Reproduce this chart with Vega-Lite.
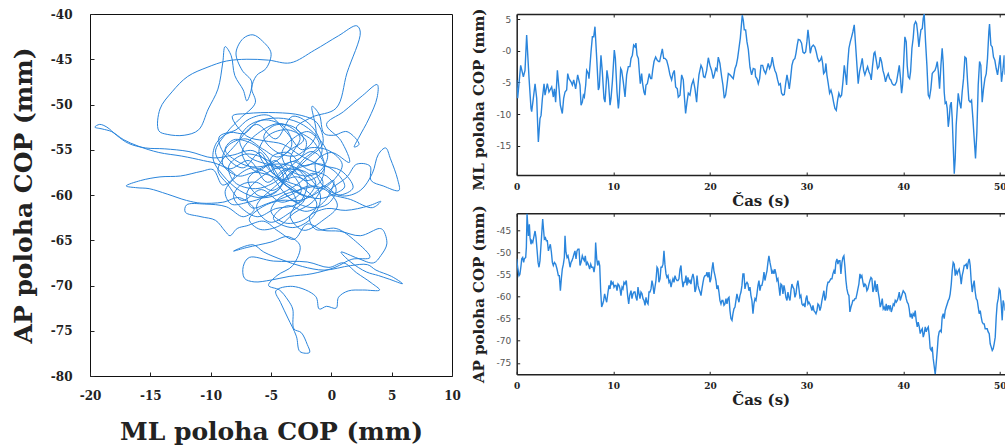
{
"$schema": "https://vega.github.io/schema/vega-lite/v6.json",
"padding": {"left": 10, "top": 7, "right": 0, "bottom": 0},
"background": "white",
"bounds": "flush",
"spacing": 64.7,
"config": {
  "view": {"stroke": null},
  "axis": {"grid": false, "labelFlush": false, "labelOverlap": false, "labelFont": "DejaVu Serif", "labelFontWeight": "bold", "labelColor": "#222", "titleFont": "DejaVu Serif", "titleFontWeight": "bold", "titleColor": "#222", "tickColor": "#222", "domainColor": "#222"}
},
"datasets": {
"xy": [
{"ml":-3.5,"ap":-58.5},{"ml":-4.6,"ap":-56.2},{"ml":-6.2,"ap":-57.4},{"ml":-7.4,"ap":-55.3},{"ml":-6.1,"ap":-53.2},{"ml":-4.2,"ap":-52.1},{"ml":-2.6,"ap":-53.6},{"ml":-3.4,"ap":-56.1},{"ml":-2.1,"ap":-58.4},{"ml":-0.6,"ap":-57.1},{"ml":-1.4,"ap":-54.2},{"ml":-2.9,"ap":-52.6},{"ml":-1.6,"ap":-51.4},{"ml":0.4,"ap":-50.4},{"ml":1.3,"ap":-46.5},{"ml":2.4,"ap":-42.0},{"ml":2.1,"ap":-41.3},{"ml":0.6,"ap":-42.4},{"ml":-1.4,"ap":-44.0},{"ml":-3.4,"ap":-45.4},{"ml":-5.2,"ap":-45.1},{"ml":-7.0,"ap":-45.0},{"ml":-8.7,"ap":-45.2},{"ml":-10.3,"ap":-45.9},{"ml":-11.9,"ap":-46.9},{"ml":-13.2,"ap":-48.6},{"ml":-14.2,"ap":-50.5},{"ml":-14.3,"ap":-52.9},{"ml":-13.6,"ap":-53.3},{"ml":-12.2,"ap":-53.4},{"ml":-11.0,"ap":-52.8},{"ml":-10.2,"ap":-50.5},{"ml":-9.4,"ap":-48.3},{"ml":-9.0,"ap":-45.4},{"ml":-8.8,"ap":-43.6},{"ml":-8.3,"ap":-44.6},{"ml":-8.0,"ap":-46.8},{"ml":-7.3,"ap":-48.4},{"ml":-7.0,"ap":-49.6},
{"ml":-6.6,"ap":-47.5},{"ml":-7.4,"ap":-46.2},{"ml":-7.9,"ap":-44.3},{"ml":-7.3,"ap":-42.7},{"ml":-6.5,"ap":-42.3},{"ml":-5.7,"ap":-43.0},{"ml":-5.0,"ap":-44.3},{"ml":-5.4,"ap":-46.0},{"ml":-6.2,"ap":-46.8},{"ml":-6.6,"ap":-48.2},{"ml":-6.3,"ap":-49.8},{"ml":-7.6,"ap":-51.6},{"ml":-8.6,"ap":-53.0},
{"ml":-9.6,"ap":-55.3},{"ml":-8.5,"ap":-57.1},{"ml":-6.8,"ap":-56.2},{"ml":-5.3,"ap":-58.6},{"ml":-3.8,"ap":-57.2},{"ml":-2.5,"ap":-59.6},{"ml":-4.1,"ap":-60.8},{"ml":-5.8,"ap":-59.4},{"ml":-7.4,"ap":-60.6},{"ml":-8.6,"ap":-58.8},{"ml":-9.4,"ap":-57.2},{"ml":-7.9,"ap":-54.4},{"ml":-6.2,"ap":-52.2},{"ml":-4.6,"ap":-53.8},{"ml":-3.2,"ap":-51.3},{"ml":-1.5,"ap":-52.6},{"ml":-0.8,"ap":-55.4},{"ml":-2.2,"ap":-56.8},{"ml":-3.6,"ap":-55.3},{"ml":-5.0,"ap":-55.9},{"ml":-4.3,"ap":-58.3},{"ml":-2.8,"ap":-58.0},{"ml":-1.1,"ap":-59.3},{"ml":0.2,"ap":-58.4},{"ml":-0.5,"ap":-60.6},{"ml":-2.0,"ap":-61.8},{"ml":-3.7,"ap":-61.2},{"ml":-4.8,"ap":-62.6},{"ml":-3.2,"ap":-63.6},{"ml":-1.6,"ap":-62.5},{"ml":-0.9,"ap":-60.1},{"ml":-2.3,"ap":-57.5},{"ml":-3.9,"ap":-56.6},{"ml":-5.6,"ap":-56.9},{"ml":-6.9,"ap":-58.3},{"ml":-6.0,"ap":-60.1},{"ml":-4.5,"ap":-59.6},
{"ml":-4.0,"ap":-57.8},{"ml":-5.5,"ap":-56.0},{"ml":-7.2,"ap":-55.5},{"ml":-8.5,"ap":-56.8},{"ml":-8.0,"ap":-58.6},{"ml":-6.3,"ap":-59.3},{"ml":-4.6,"ap":-58.5},{"ml":-3.0,"ap":-56.4},{"ml":-1.6,"ap":-55.2},{"ml":-0.6,"ap":-56.5},{"ml":-1.0,"ap":-58.7},{"ml":-2.6,"ap":-59.4},{"ml":-4.2,"ap":-60.2},{"ml":-5.0,"ap":-61.8},{"ml":-3.8,"ap":-63.1},{"ml":-2.1,"ap":-62.6},{"ml":-1.2,"ap":-61.0},{"ml":-2.4,"ap":-59.2},{"ml":-3.9,"ap":-58.4},{"ml":-5.1,"ap":-57.3},{"ml":-6.0,"ap":-55.2},{"ml":-5.2,"ap":-53.4},{"ml":-3.6,"ap":-52.8},{"ml":-2.1,"ap":-54.0},{"ml":-2.5,"ap":-55.8},{"ml":-4.1,"ap":-56.7},{"ml":-5.8,"ap":-58.0},{"ml":-7.0,"ap":-59.8},{"ml":-6.6,"ap":-61.4},{"ml":-5.2,"ap":-60.9},{"ml":-3.4,"ap":-60.0},{"ml":-1.8,"ap":-59.0},{"ml":-0.3,"ap":-59.6},{"ml":0.5,"ap":-61.2},{"ml":-0.6,"ap":-62.7},{"ml":-2.3,"ap":-63.9},{"ml":-3.4,"ap":-62.4},{"ml":-2.9,"ap":-60.7},{"ml":-3.6,"ap":-59.1},{"ml":-4.8,"ap":-58.0},{"ml":-6.3,"ap":-57.5},{"ml":-7.7,"ap":-57.9},{"ml":-9.0,"ap":-56.6},{"ml":-8.6,"ap":-54.6},{"ml":-7.1,"ap":-53.8},{"ml":-5.7,"ap":-54.9},{"ml":-4.4,"ap":-55.8},{"ml":-3.3,"ap":-54.6},{"ml":-3.8,"ap":-52.6},{"ml":-5.4,"ap":-51.7},{"ml":-6.9,"ap":-52.4},{"ml":-7.6,"ap":-54.0},{"ml":-6.8,"ap":-55.8},{"ml":-5.3,"ap":-56.6},{"ml":-3.7,"ap":-57.1},{"ml":-2.2,"ap":-57.4},{"ml":-1.3,"ap":-58.6},{"ml":-1.9,"ap":-60.1},{"ml":-3.2,"ap":-61.2},{"ml":-4.6,"ap":-61.5},{"ml":-6.1,"ap":-62.4},{"ml":-7.3,"ap":-61.6},{"ml":-8.1,"ap":-60.2},{"ml":-7.5,"ap":-58.9},{"ml":-6.2,"ap":-58.6},{"ml":-4.9,"ap":-59.5},{"ml":-3.6,"ap":-58.2},{"ml":-2.4,"ap":-56.2},{"ml":-1.0,"ap":-54.4},{"ml":-1.9,"ap":-53.0},{"ml":-3.3,"ap":-53.9},{"ml":-4.1,"ap":-55.4},{"ml":-3.5,"ap":-57.2},{"ml":-2.0,"ap":-57.9},{"ml":-0.9,"ap":-57.3},{"ml":-0.3,"ap":-55.6},{"ml":-1.2,"ap":-53.5},{"ml":-2.7,"ap":-52.0},{"ml":-4.4,"ap":-51.5},{"ml":-6.1,"ap":-51.9},{"ml":-7.2,"ap":-53.2},{"ml":-8.4,"ap":-53.1},{"ml":-9.5,"ap":-54.2},{"ml":-9.8,"ap":-56.0},{"ml":-9.0,"ap":-57.8},{"ml":-7.6,"ap":-59.5},{"ml":-6.0,"ap":-60.3},{"ml":-4.5,"ap":-60.0},{"ml":-2.9,"ap":-58.9},{"ml":-1.5,"ap":-57.6},{"ml":-0.7,"ap":-58.5},{"ml":-1.5,"ap":-60.7},{"ml":-3.1,"ap":-62.0},{"ml":-4.3,"ap":-63.4},{"ml":-5.9,"ap":-63.8},{"ml":-6.8,"ap":-62.7},{"ml":-5.7,"ap":-61.3},{"ml":-4.2,"ap":-60.6},{"ml":-2.6,"ap":-60.6},{"ml":-1.1,"ap":-59.7},{"ml":0.3,"ap":-58.2},{"ml":0.9,"ap":-56.6},{"ml":-0.2,"ap":-55.1},{"ml":-1.8,"ap":-54.8},{"ml":-3.0,"ap":-55.7},{"ml":-4.6,"ap":-55.2},{"ml":-5.6,"ap":-53.6},{"ml":-4.7,"ap":-52.3},{"ml":-3.1,"ap":-52.5},{"ml":-2.3,"ap":-53.9},{"ml":-3.4,"ap":-55.0},{"ml":-4.9,"ap":-56.5},{"ml":-6.5,"ap":-56.9},{"ml":-7.9,"ap":-56.2},{"ml":-8.8,"ap":-55.0},{"ml":-8.1,"ap":-53.9},{"ml":-6.6,"ap":-54.3},{"ml":-5.4,"ap":-55.6},{"ml":-4.8,"ap":-57.0},{"ml":-3.9,"ap":-58.8},{"ml":-2.5,"ap":-59.9},{"ml":-1.0,"ap":-60.4},{"ml":0.2,"ap":-59.9},{"ml":1.1,"ap":-59.1},{"ml":0.6,"ap":-57.8},{"ml":-0.8,"ap":-56.6},{"ml":-2.3,"ap":-56.8},{"ml":-3.6,"ap":-57.8},{"ml":-4.3,"ap":-59.3},{"ml":-5.5,"ap":-60.2},{"ml":-6.9,"ap":-60.8},{"ml":-8.3,"ap":-61.0},{"ml":-8.8,"ap":-59.6},{"ml":-7.8,"ap":-57.9},{"ml":-6.5,"ap":-57.0},{"ml":-5.1,"ap":-57.8},{"ml":-4.0,"ap":-59.6},{"ml":-3.1,"ap":-60.7},{"ml":-1.6,"ap":-61.4},{"ml":-0.3,"ap":-61.0},{"ml":0.4,"ap":-59.4},{"ml":-0.4,"ap":-57.9},{"ml":-1.9,"ap":-57.2},{"ml":-3.2,"ap":-56.3},{"ml":-4.5,"ap":-57.1},
{"ml":-6.5,"ap":-55.1},{"ml":-8.2,"ap":-55.6},{"ml":-9.8,"ap":-55.9},{"ml":-11.8,"ap":-55.2},{"ml":-13.8,"ap":-54.9},{"ml":-15.4,"ap":-54.8},{"ml":-16.8,"ap":-54.3},{"ml":-17.8,"ap":-53.4},{"ml":-18.6,"ap":-52.5},{"ml":-19.2,"ap":-52.2},{"ml":-19.6,"ap":-52.5},{"ml":-19.0,"ap":-52.7},{"ml":-18.2,"ap":-53.0},{"ml":-17.2,"ap":-53.9},{"ml":-16.0,"ap":-54.6},{"ml":-14.3,"ap":-55.3},{"ml":-12.4,"ap":-55.7},{"ml":-10.6,"ap":-56.2},{"ml":-9.4,"ap":-56.6},{"ml":-8.0,"ap":-57.8},{"ml":-9.0,"ap":-58.9},{"ml":-9.8,"ap":-57.2},
{"ml":-10.8,"ap":-57.4},{"ml":-12.5,"ap":-57.9},{"ml":-14.2,"ap":-58.0},{"ml":-15.8,"ap":-58.4},{"ml":-17.0,"ap":-59.0},{"ml":-16.1,"ap":-59.2},{"ml":-15.1,"ap":-59.3},{"ml":-13.6,"ap":-59.9},{"ml":-12.0,"ap":-60.6},{"ml":-10.8,"ap":-60.9},{"ml":-9.0,"ap":-60.8},{"ml":-7.6,"ap":-60.3},{"ml":-6.4,"ap":-61.6},{"ml":-7.3,"ap":-62.4},
{"ml":-8.7,"ap":-61.3},{"ml":-10.5,"ap":-61.0},{"ml":-12.0,"ap":-61.1},{"ml":-12.1,"ap":-61.9},{"ml":-10.8,"ap":-62.4},{"ml":-9.6,"ap":-62.8},{"ml":-8.8,"ap":-64.0},{"ml":-8.4,"ap":-64.5},{"ml":-7.8,"ap":-63.7},{"ml":-7.0,"ap":-63.4},{"ml":-5.6,"ap":-62.9},{"ml":-4.4,"ap":-64.0},{"ml":-3.1,"ap":-64.9},{"ml":-2.0,"ap":-63.2},{"ml":-0.7,"ap":-63.9},{"ml":0.7,"ap":-64.0},{"ml":2.4,"ap":-64.5},{"ml":4.0,"ap":-63.7},{"ml":4.3,"ap":-63.9},{"ml":4.6,"ap":-65.4},{"ml":4.1,"ap":-66.7},{"ml":3.5,"ap":-67.5},{"ml":2.2,"ap":-67.0},{"ml":0.8,"ap":-66.3},{"ml":1.6,"ap":-67.4},{"ml":2.9,"ap":-68.5},{"ml":3.9,"ap":-68.9},{"ml":4.8,"ap":-69.3},{"ml":5.9,"ap":-69.8},{"ml":5.0,"ap":-69.0},{"ml":3.7,"ap":-68.3},{"ml":3.0,"ap":-67.7},{"ml":1.6,"ap":-67.8},{"ml":-0.6,"ap":-68.3},{"ml":-2.4,"ap":-67.9},{"ml":-4.0,"ap":-67.2},{"ml":-5.6,"ap":-66.3},{"ml":-6.5,"ap":-65.5},{"ml":-8.1,"ap":-66.2},{"ml":-7.0,"ap":-65.8},{"ml":-5.0,"ap":-65.2},{"ml":-3.6,"ap":-64.6},
{"ml":-2.6,"ap":-65.6},{"ml":-3.2,"ap":-67.8},{"ml":-4.5,"ap":-68.9},{"ml":-5.2,"ap":-70.0},{"ml":-4.3,"ap":-70.5},{"ml":-3.6,"ap":-71.6},{"ml":-3.2,"ap":-72.6},{"ml":-3.1,"ap":-74.8},{"ml":-2.5,"ap":-75.2},{"ml":-2.0,"ap":-76.5},{"ml":-1.8,"ap":-77.4},{"ml":-2.6,"ap":-77.3},{"ml":-2.9,"ap":-75.6},{"ml":-3.6,"ap":-73.6},{"ml":-4.2,"ap":-71.9},{"ml":-4.6,"ap":-70.6},{"ml":-3.2,"ap":-70.1},{"ml":-1.3,"ap":-71.2},{"ml":-1.0,"ap":-72.6},{"ml":-0.4,"ap":-72.3},{"ml":0.4,"ap":-72.5},{"ml":0.6,"ap":-71.3},{"ml":1.4,"ap":-70.6},{"ml":2.6,"ap":-70.5},{"ml":4.0,"ap":-70.5},{"ml":3.3,"ap":-69.7},{"ml":2.1,"ap":-68.6},{"ml":1.0,"ap":-67.5},{"ml":-0.2,"ap":-68.0},
{"ml":-2.0,"ap":-67.4},{"ml":-4.8,"ap":-67.3},{"ml":-6.8,"ap":-66.9},{"ml":-7.3,"ap":-67.9},{"ml":-7.2,"ap":-69.2},{"ml":-6.4,"ap":-69.6},{"ml":-5.0,"ap":-69.4},{"ml":-3.5,"ap":-69.0},{"ml":-1.6,"ap":-68.7},{"ml":0.3,"ap":-68.0},{"ml":1.7,"ap":-67.1},{"ml":3.2,"ap":-66.9},
{"ml":2.0,"ap":-65.1},{"ml":0.4,"ap":-63.7},{"ml":-1.3,"ap":-63.8},{"ml":-1.8,"ap":-62.4},{"ml":-0.4,"ap":-61.5},{"ml":1.2,"ap":-61.7},{"ml":3.1,"ap":-61.2},{"ml":4.1,"ap":-60.7},{"ml":3.4,"ap":-61.4},{"ml":1.6,"ap":-60.5},{"ml":-0.2,"ap":-59.7},{"ml":1.3,"ap":-58.0},{"ml":2.1,"ap":-56.6},{"ml":3.2,"ap":-56.8},{"ml":3.3,"ap":-58.4},{"ml":4.3,"ap":-59.0},{"ml":5.6,"ap":-59.5},{"ml":5.5,"ap":-58.3},{"ml":4.9,"ap":-56.0},{"ml":4.5,"ap":-54.8},{"ml":3.9,"ap":-55.5},{"ml":3.4,"ap":-57.6},{"ml":2.4,"ap":-59.5},{"ml":0.9,"ap":-60.1},{"ml":-0.8,"ap":-58.8},{"ml":-1.3,"ap":-56.4},{"ml":0.0,"ap":-55.3},{"ml":1.5,"ap":-56.4},
{"ml":0.8,"ap":-54.0},{"ml":-0.4,"ap":-52.2},{"ml":1.0,"ap":-50.8},{"ml":2.6,"ap":-49.0},{"ml":3.8,"ap":-47.8},{"ml":3.8,"ap":-49.2},{"ml":3.1,"ap":-51.6},{"ml":2.3,"ap":-53.6},{"ml":1.9,"ap":-54.7},{"ml":2.3,"ap":-54.4},{"ml":1.3,"ap":-53.0},{"ml":0.2,"ap":-53.4},{"ml":-0.6,"ap":-53.2},{"ml":-1.0,"ap":-51.1},{"ml":-1.6,"ap":-50.2},{"ml":-1.3,"ap":-53.5},
{"ml":-2.4,"ap":-55.0},{"ml":-3.7,"ap":-53.1},{"ml":-5.2,"ap":-51.2},{"ml":-6.8,"ap":-51.6},{"ml":-7.9,"ap":-52.8},{"ml":-9.3,"ap":-53.6},{"ml":-8.7,"ap":-55.8},{"ml":-7.3,"ap":-57.0},{"ml":-5.9,"ap":-55.3},{"ml":-4.9,"ap":-57.5},{"ml":-3.3,"ap":-59.1},{"ml":-1.9,"ap":-60.2},{"ml":-0.6,"ap":-59.0},{"ml":0.6,"ap":-60.0},{"ml":1.8,"ap":-59.2},{"ml":0.8,"ap":-57.3},{"ml":-0.9,"ap":-56.7},{"ml":-2.6,"ap":-55.6},{"ml":-4.0,"ap":-54.4},{"ml":-5.6,"ap":-54.0},{"ml":-7.0,"ap":-53.5},{"ml":-8.2,"ap":-51.3},{"ml":-7.0,"ap":-51.0},{"ml":-4.6,"ap":-50.9},{"ml":-2.5,"ap":-51.2},{"ml":-1.2,"ap":-52.0},{"ml":-0.7,"ap":-54.3},{"ml":-1.9,"ap":-55.9},{"ml":-3.3,"ap":-57.6},{"ml":-4.7,"ap":-59.1},{"ml":-6.2,"ap":-61.3},{"ml":-5.1,"ap":-63.0},{"ml":-3.6,"ap":-62.1},{"ml":-2.2,"ap":-60.4},{"ml":-3.0,"ap":-59.6},{"ml":-4.4,"ap":-58.1},{"ml":-3.1,"ap":-57.0},{"ml":-2.0,"ap":-58.6},{"ml":-2.7,"ap":-60.8},{"ml":-3.9,"ap":-59.8}
],
"ml": [
{"t":0,"v":-4.6},{"t":0.1,"v":-7.5},{"t":0.41,"v":-2.3},{"t":0.69,"v":-4.1},{"t":0.86,"v":-3.1},{"t":1.03,"v":2.5},{"t":1.28,"v":-4.4},{"t":1.48,"v":-9.1},{"t":1.55,"v":-9.6},{"t":1.72,"v":-7.5},{"t":1.9,"v":-5.2},{"t":2.07,"v":-7.5},{"t":2.17,"v":-11.7},{"t":2.24,"v":-14.4},{"t":2.41,"v":-10.7},{"t":2.52,"v":-10.2},{"t":2.66,"v":-7.5},{"t":2.83,"v":-5.2},{"t":2.93,"v":-7.0},{"t":3.17,"v":-5.2},{"t":3.34,"v":-6.5},{"t":3.62,"v":-5.7},{"t":3.79,"v":-7.3},{"t":3.9,"v":-6.0},{"t":4.03,"v":-8.1},{"t":4.21,"v":-3.1},{"t":4.38,"v":-6.0},{"t":4.52,"v":-8.6},{"t":4.72,"v":-9.9},{"t":4.86,"v":-7.5},{"t":5.0,"v":-6.5},{"t":5.17,"v":-6.2},{"t":5.28,"v":-3.6},{"t":5.41,"v":-4.4},{"t":5.62,"v":-4.9},{"t":5.76,"v":-5.4},{"t":5.9,"v":-4.6},{"t":6.1,"v":-6.0},{"t":6.31,"v":-3.8},{"t":6.55,"v":-5.4},{"t":6.66,"v":-8.6},{"t":6.79,"v":-8.1},{"t":6.9,"v":-7.0},{"t":7.0,"v":-7.3},{"t":7.14,"v":-5.4},{"t":7.24,"v":-3.1},{"t":7.41,"v":-3.6},{"t":7.48,"v":-4.4},{"t":7.69,"v":-0.2},{"t":7.83,"v":2.2},{"t":7.97,"v":2.2},{"t":8.1,"v":3.8},{"t":8.28,"v":-1.2},{"t":8.45,"v":-6.2},{"t":8.55,"v":-5.7},{"t":8.72,"v":-0.7},{"t":8.86,"v":-3.3},{"t":9.03,"v":-7.5},{"t":9.14,"v":-8.1},{"t":9.21,"v":-6.5},{"t":9.34,"v":-3.1},{"t":9.48,"v":-4.6},{"t":9.66,"v":-8.6},{"t":9.76,"v":-7.5},{"t":9.9,"v":-4.9},{"t":10.1,"v":0.1},{"t":10.21,"v":-1.2},{"t":10.38,"v":-6.5},{"t":10.52,"v":-9.1},{"t":10.59,"v":-8.1},{"t":10.76,"v":-2.8},{"t":10.86,"v":-3.1},{"t":11.03,"v":-4.9},{"t":11.21,"v":-7.3},{"t":11.38,"v":-3.8},{"t":11.55,"v":-2.5},{"t":11.72,"v":-2.5},{"t":11.83,"v":-1.2},{"t":11.97,"v":-0.7},{"t":12.1,"v":0.9},{"t":12.24,"v":0.6},
{"t":12.34,"v":1.2},{"t":12.45,"v":-0.7},{"t":12.59,"v":-1.2},{"t":12.69,"v":-3.3},{"t":12.79,"v":-5.2},{"t":12.93,"v":-3.6},{"t":13.03,"v":-5.2},{"t":13.17,"v":-6.5},{"t":13.28,"v":-7.0},{"t":13.38,"v":-5.4},{"t":13.52,"v":-5.2},{"t":13.62,"v":-4.4},{"t":13.72,"v":-3.6},{"t":13.86,"v":-4.4},{"t":13.97,"v":-4.4},{"t":14.07,"v":-3.1},{"t":14.21,"v":-1.7},{"t":14.38,"v":-1.0},{"t":14.55,"v":-1.5},{"t":14.69,"v":-1.7},{"t":14.79,"v":-1.7},{"t":14.93,"v":-0.7},{"t":15.07,"v":0.3},{"t":15.21,"v":-1.2},{"t":15.34,"v":-1.2},{"t":15.52,"v":-1.5},{"t":15.69,"v":-2.5},{"t":15.86,"v":-3.8},{"t":16.03,"v":-4.6},{"t":16.17,"v":-3.6},{"t":16.31,"v":-3.1},{"t":16.45,"v":-5.7},{"t":16.62,"v":-6.0},{"t":16.72,"v":-7.3},{"t":16.9,"v":-7.0},{"t":17.07,"v":-3.8},{"t":17.24,"v":-4.6},{"t":17.34,"v":-7.0},{"t":17.48,"v":-9.9},{"t":17.62,"v":-8.1},{"t":17.76,"v":-6.7},{"t":17.93,"v":-7.0},{"t":18.1,"v":-5.4},{"t":18.28,"v":-4.6},{"t":18.45,"v":-6.0},{"t":18.62,"v":-8.1},{"t":18.72,"v":-6.0},{"t":18.86,"v":-3.8},{"t":19.07,"v":-2.3},{"t":19.21,"v":-2.8},{"t":19.34,"v":-4.1},{"t":19.48,"v":-4.2},{"t":19.66,"v":-3.1},{"t":19.83,"v":-1.1},{"t":20.0,"v":-2.3},{"t":20.17,"v":-3.1},{"t":20.34,"v":-4.4},{"t":20.45,"v":-3.8},{"t":20.59,"v":-2.8},{"t":20.72,"v":-3.1},{"t":20.86,"v":-1.0},{"t":21.03,"v":-2.0},{"t":21.21,"v":-4.1},{"t":21.34,"v":-5.4},{"t":21.48,"v":-7.5},{"t":21.62,"v":-7.0},{"t":21.76,"v":-5.4},{"t":21.9,"v":-3.6},{"t":22.07,"v":-3.8},{"t":22.24,"v":-4.1},{"t":22.41,"v":-4.4},{"t":22.59,"v":-2.8},{"t":22.72,"v":-2.3},{"t":22.86,"v":-1.2},{"t":23.0,"v":0.4},{"t":23.14,"v":2.0},{"t":23.24,"v":3.8},{"t":23.34,"v":5.6},{"t":23.45,"v":4.8},{"t":23.55,"v":3.3},{"t":23.69,"v":3.3},{"t":23.83,"v":1.4},{"t":23.97,"v":0.2},{"t":24.14,"v":-2.6},{"t":24.31,"v":-3.8},{"t":24.48,"v":-2.8},{"t":24.66,"v":-2.9},
{"t":24.72,"v":-4.1},{"t":24.86,"v":-4.4},{"t":25.0,"v":-5.2},{"t":25.14,"v":-4.4},{"t":25.28,"v":-2.3},{"t":25.45,"v":-2.3},{"t":25.59,"v":-3.1},{"t":25.76,"v":-3.6},{"t":25.9,"v":-2.8},{"t":26.03,"v":-2.0},{"t":26.17,"v":-2.8},{"t":26.31,"v":-2.3},{"t":26.45,"v":-1.0},{"t":26.59,"v":-2.3},{"t":26.72,"v":-3.1},{"t":26.86,"v":-3.6},{"t":27.0,"v":-4.6},{"t":27.14,"v":-5.4},{"t":27.28,"v":-5.2},{"t":27.41,"v":-6.7},{"t":27.55,"v":-7.0},{"t":27.69,"v":-6.9},{"t":27.83,"v":-5.2},{"t":27.97,"v":-3.8},{"t":28.1,"v":-4.9},{"t":28.21,"v":-6.0},{"t":28.34,"v":-4.4},{"t":28.48,"v":-2.3},{"t":28.62,"v":-1.5},{"t":28.79,"v":-1.2},{"t":28.9,"v":-0.4},{"t":29.03,"v":0.9},{"t":29.14,"v":1.8},{"t":29.31,"v":1.7},{"t":29.48,"v":1.2},{"t":29.62,"v":-0.2},{"t":29.76,"v":-0.4},{"t":29.9,"v":-0.2},{"t":30.03,"v":1.4},{"t":30.14,"v":3.3},{"t":30.24,"v":2.0},{"t":30.38,"v":-0.4},{"t":30.52,"v":0.6},{"t":30.69,"v":0.9},{"t":30.86,"v":0.6},{"t":31.0,"v":-0.2},{"t":31.14,"v":-1.2},{"t":31.28,"v":-1.7},{"t":31.41,"v":-1.5},{"t":31.55,"v":-1.0},{"t":31.66,"v":-2.0},{"t":31.76,"v":-3.6},{"t":31.9,"v":-3.3},{"t":32.0,"v":-2.0},{"t":32.1,"v":-3.8},{"t":32.24,"v":-5.2},{"t":32.38,"v":-6.7},{"t":32.52,"v":-6.2},{"t":32.66,"v":-7.0},{"t":32.79,"v":-8.1},{"t":32.93,"v":-9.1},{"t":33.07,"v":-9.4},{"t":33.21,"v":-7.8},{"t":33.34,"v":-6.7},{"t":33.48,"v":-7.3},{"t":33.62,"v":-7.0},{"t":33.76,"v":-4.9},{"t":33.9,"v":-2.3},{"t":34.03,"v":-3.8},{"t":34.14,"v":-5.4},{"t":34.24,"v":-2.3},{"t":34.38,"v":0.4},{"t":34.52,"v":1.4},{"t":34.66,"v":2.2},{"t":34.79,"v":3.0},{"t":34.93,"v":4.1},{"t":35.07,"v":0.9},{"t":35.21,"v":-2.3},{"t":35.34,"v":-5.2},{"t":35.48,"v":-3.3},{"t":35.62,"v":-2.3},{"t":35.76,"v":-1.2},{"t":35.9,"v":-3.1},{"t":36.03,"v":-3.8},{"t":36.17,"v":-3.1},{"t":36.31,"v":-2.5},{"t":36.45,"v":-3.3},{"t":36.59,"v":-3.8},{"t":36.69,"v":-4.6},{"t":36.83,"v":-2.3},{"t":36.97,"v":-0.4},{"t":37.07,"v":-0.2},
{"t":37.21,"v":-1.5},{"t":37.34,"v":-2.8},{"t":37.48,"v":-2.5},{"t":37.62,"v":-1.0},{"t":37.76,"v":-1.7},{"t":37.9,"v":-3.1},{"t":38.03,"v":-3.8},{"t":38.17,"v":-4.9},{"t":38.31,"v":-4.1},{"t":38.45,"v":-3.6},{"t":38.59,"v":-4.4},{"t":38.72,"v":-4.6},{"t":38.86,"v":-5.2},{"t":39.0,"v":-5.4},{"t":39.14,"v":-5.4},{"t":39.31,"v":-4.9},{"t":39.45,"v":-3.6},{"t":39.59,"v":-2.3},{"t":39.72,"v":-4.4},{"t":39.83,"v":-6.7},{"t":39.93,"v":-5.4},{"t":40.03,"v":-2.3},{"t":40.17,"v":2.2},{"t":40.31,"v":1.4},{"t":40.41,"v":-2.3},{"t":40.52,"v":-4.1},{"t":40.66,"v":-4.4},{"t":40.76,"v":-3.3},{"t":40.9,"v":0.4},{"t":41.03,"v":2.0},{"t":41.14,"v":4.1},{"t":41.28,"v":4.6},{"t":41.38,"v":4.3},{"t":41.48,"v":3.0},{"t":41.62,"v":0.6},{"t":41.72,"v":2.0},{"t":41.83,"v":3.3},{"t":41.97,"v":3.5},{"t":42.07,"v":5.1},{"t":42.17,"v":5.8},{"t":42.31,"v":1.4},{"t":42.45,"v":-2.3},{"t":42.59,"v":-7.0},{"t":42.72,"v":-7.4},{"t":42.86,"v":-6.0},{"t":43.0,"v":-3.6},{"t":43.14,"v":-3.3},{"t":43.28,"v":-3.1},{"t":43.41,"v":-2.5},{"t":43.52,"v":-1.7},{"t":43.62,"v":-3.1},{"t":43.76,"v":-6.0},{"t":43.9,"v":-2.3},{"t":44.03,"v":0.4},{"t":44.14,"v":-2.0},{"t":44.24,"v":-6.5},{"t":44.34,"v":-8.3},{"t":44.45,"v":-8.1},{"t":44.55,"v":-9.1},{"t":44.66,"v":-12.0},{"t":44.76,"v":-10.7},{"t":44.86,"v":-8.6},{"t":44.97,"v":-8.1},{"t":45.07,"v":-10.7},{"t":45.17,"v":-14.9},{"t":45.28,"v":-19.4},{"t":45.38,"v":-17.0},{"t":45.48,"v":-11.7},{"t":45.59,"v":-9.1},{"t":45.69,"v":-6.7},{"t":45.83,"v":-8.1},{"t":45.97,"v":-9.1},{"t":46.1,"v":-6.5},{"t":46.24,"v":-4.4},{"t":46.38,"v":-1.0},{"t":46.52,"v":-1.2},{"t":46.66,"v":-4.9},{"t":46.79,"v":-7.8},{"t":46.93,"v":-8.1},{"t":47.07,"v":-7.8},{"t":47.21,"v":-10.7},{"t":47.34,"v":-13.8},{"t":47.48,"v":-17.0},{"t":47.62,"v":-12.8},{"t":47.76,"v":-5.4},{"t":47.9,"v":-1.7},{"t":48.03,"v":-2.3},{"t":48.17,"v":-8.1},{"t":48.31,"v":-6.0},{"t":48.45,"v":-4.4},{"t":48.59,"v":-3.6},{"t":48.72,"v":-1.2},{"t":48.86,"v":3.0},{"t":48.93,"v":4.2},{"t":49.07,"v":0.9},{"t":49.21,"v":0.6},{"t":49.34,"v":-1.0},{"t":49.48,"v":-1.5},{"t":49.62,"v":-2.8},{"t":49.76,"v":-3.8},{"t":49.9,"v":-2.3},{"t":50.03,"v":-0.7},{"t":50.17,"v":-4.9},{"t":50.31,"v":-3.1},{"t":50.45,"v":-0.7},{"t":50.52,"v":-3.8}
],
"ap": [
{"t":0,"v":-51.5},{"t":0.1,"v":-53.4},{"t":0.24,"v":-55.3},{"t":0.34,"v":-54.9},{"t":0.45,"v":-53.0},{"t":0.52,"v":-51.5},{"t":0.62,"v":-51.2},{"t":0.72,"v":-52.3},{"t":0.79,"v":-51.5},{"t":0.93,"v":-51.2},{"t":1.0,"v":-48.9},{"t":1.07,"v":-41.3},{"t":1.14,"v":-43.7},{"t":1.21,"v":-46.3},{"t":1.31,"v":-43.7},{"t":1.38,"v":-46.7},{"t":1.48,"v":-48.2},{"t":1.55,"v":-47.4},{"t":1.66,"v":-47.8},{"t":1.76,"v":-46.7},{"t":1.9,"v":-45.2},{"t":2.0,"v":-46.7},{"t":2.1,"v":-49.3},{"t":2.21,"v":-52.3},{"t":2.31,"v":-53.4},{"t":2.41,"v":-51.9},{"t":2.52,"v":-48.2},{"t":2.62,"v":-44.8},{"t":2.69,"v":-42.5},{"t":2.76,"v":-44.4},{"t":2.86,"v":-47.0},{"t":2.97,"v":-46.7},{"t":3.07,"v":-47.4},{"t":3.17,"v":-47.4},{"t":3.28,"v":-49.7},{"t":3.38,"v":-48.9},{"t":3.48,"v":-48.2},{"t":3.59,"v":-50.0},{"t":3.69,"v":-52.3},{"t":3.79,"v":-53.0},{"t":3.9,"v":-52.3},{"t":4.03,"v":-52.7},{"t":4.17,"v":-53.8},{"t":4.31,"v":-55.3},{"t":4.41,"v":-55.3},{"t":4.52,"v":-58.7},{"t":4.62,"v":-56.0},{"t":4.72,"v":-53.8},{"t":4.83,"v":-52.7},{"t":4.93,"v":-51.2},{"t":5.0,"v":-46.3},{"t":5.1,"v":-50.0},{"t":5.21,"v":-51.2},{"t":5.31,"v":-50.8},{"t":5.41,"v":-51.9},{"t":5.52,"v":-53.4},{"t":5.62,"v":-52.3},{"t":5.72,"v":-51.9},{"t":5.83,"v":-51.2},{"t":5.93,"v":-50.4},{"t":6.03,"v":-49.7},{"t":6.14,"v":-51.5},{"t":6.24,"v":-49.7},{"t":6.34,"v":-49.3},{"t":6.45,"v":-49.3},{"t":6.55,"v":-53.0},{"t":6.66,"v":-52.3},{"t":6.79,"v":-50.8},{"t":6.9,"v":-51.5},{"t":7.0,"v":-51.9},{"t":7.1,"v":-50.8},{"t":7.21,"v":-53.0},{"t":7.31,"v":-52.3},{"t":7.41,"v":-52.7},{"t":7.55,"v":-53.8},{"t":7.66,"v":-52.7},{"t":7.76,"v":-53.4},{"t":7.9,"v":-53.4},{"t":8.0,"v":-54.5},{"t":8.1,"v":-53.0},{"t":8.17,"v":-47.8},{"t":8.28,"v":-51.5},{"t":8.38,"v":-53.0},{"t":8.48,"v":-51.9},{"t":8.59,"v":-53.0},{"t":8.69,"v":-58.7},{"t":8.79,"v":-62.4},{"t":8.9,"v":-61.7},{"t":9.0,"v":-60.9},{"t":9.1,"v":-59.4},{"t":9.21,"v":-60.5},{"t":9.31,"v":-61.3},{"t":9.45,"v":-59.0},{"t":9.55,"v":-57.5},{"t":9.66,"v":-58.3},{"t":9.76,"v":-56.4},{"t":9.86,"v":-57.2},{"t":9.97,"v":-56.8},{"t":10.07,"v":-57.9},{"t":10.17,"v":-57.5},{"t":10.28,"v":-57.5},{"t":10.38,"v":-58.7},{"t":10.48,"v":-57.2},{"t":10.59,"v":-57.5},{"t":10.69,"v":-58.3},{"t":10.79,"v":-59.8},{"t":10.9,"v":-57.9},{"t":11.0,"v":-58.3},{"t":11.1,"v":-56.8},{"t":11.21,"v":-57.2},{"t":11.34,"v":-56.4},{"t":11.48,"v":-59.8},{"t":11.59,"v":-61.7},{"t":11.69,"v":-59.8},{"t":11.83,"v":-58.7},{"t":11.93,"v":-60.5},{"t":12.03,"v":-59.4},{"t":12.14,"v":-59.0},{"t":12.24,"v":-59.0},
{"t":12.34,"v":-60.2},{"t":12.45,"v":-60.9},{"t":12.55,"v":-57.9},{"t":12.66,"v":-59.4},{"t":12.76,"v":-60.5},{"t":12.86,"v":-59.0},{"t":12.97,"v":-59.4},{"t":13.07,"v":-60.5},{"t":13.17,"v":-60.9},{"t":13.28,"v":-62.0},{"t":13.38,"v":-60.2},{"t":13.48,"v":-61.3},{"t":13.59,"v":-61.7},{"t":13.69,"v":-59.0},{"t":13.79,"v":-59.0},{"t":13.9,"v":-58.3},{"t":14.0,"v":-56.4},{"t":14.1,"v":-57.5},{"t":14.21,"v":-59.4},{"t":14.31,"v":-57.9},{"t":14.41,"v":-56.4},{"t":14.52,"v":-53.4},{"t":14.62,"v":-53.8},{"t":14.72,"v":-56.8},{"t":14.83,"v":-56.0},{"t":14.93,"v":-53.4},{"t":15.03,"v":-53.4},{"t":15.14,"v":-52.7},{"t":15.24,"v":-49.7},{"t":15.34,"v":-52.7},{"t":15.45,"v":-54.9},{"t":15.55,"v":-55.7},{"t":15.66,"v":-55.3},{"t":15.76,"v":-56.8},{"t":15.86,"v":-56.4},{"t":15.97,"v":-57.9},{"t":16.07,"v":-56.8},{"t":16.17,"v":-56.0},{"t":16.28,"v":-56.8},{"t":16.38,"v":-55.3},{"t":16.48,"v":-56.0},{"t":16.59,"v":-56.4},{"t":16.69,"v":-56.4},{"t":16.79,"v":-56.0},{"t":16.9,"v":-53.8},{"t":17.0,"v":-53.0},{"t":17.1,"v":-56.0},{"t":17.21,"v":-57.9},{"t":17.31,"v":-56.8},{"t":17.41,"v":-56.8},{"t":17.52,"v":-55.3},{"t":17.62,"v":-57.5},{"t":17.72,"v":-55.7},{"t":17.83,"v":-56.8},{"t":17.93,"v":-56.4},{"t":18.03,"v":-57.2},{"t":18.14,"v":-55.7},{"t":18.24,"v":-54.9},{"t":18.34,"v":-56.0},{"t":18.45,"v":-59.0},{"t":18.55,"v":-58.3},{"t":18.66,"v":-55.3},{"t":18.76,"v":-57.5},{"t":18.86,"v":-58.3},{"t":18.97,"v":-59.0},{"t":19.07,"v":-59.8},{"t":19.17,"v":-58.3},{"t":19.28,"v":-56.8},{"t":19.38,"v":-55.7},{"t":19.48,"v":-55.3},{"t":19.59,"v":-55.3},{"t":19.69,"v":-54.5},{"t":19.79,"v":-55.7},{"t":19.9,"v":-54.5},{"t":20.0,"v":-56.8},{"t":20.1,"v":-56.0},{"t":20.21,"v":-53.8},{"t":20.31,"v":-52.3},{"t":20.41,"v":-54.2},{"t":20.52,"v":-55.3},{"t":20.62,"v":-56.4},{"t":20.72,"v":-58.3},{"t":20.83,"v":-57.5},{"t":20.93,"v":-59.0},{"t":21.03,"v":-60.9},{"t":21.14,"v":-61.7},{"t":21.24,"v":-60.9},{"t":21.34,"v":-60.9},{"t":21.45,"v":-62.0},{"t":21.55,"v":-61.7},{"t":21.66,"v":-60.5},{"t":21.76,"v":-61.7},{"t":21.86,"v":-60.5},{"t":21.97,"v":-60.2},{"t":22.07,"v":-63.2},{"t":22.17,"v":-65.0},{"t":22.28,"v":-65.4},{"t":22.38,"v":-63.9},{"t":22.48,"v":-62.8},{"t":22.59,"v":-62.4},{"t":22.69,"v":-60.9},{"t":22.79,"v":-59.4},{"t":22.9,"v":-60.5},{"t":23.0,"v":-61.3},{"t":23.1,"v":-59.8},{"t":23.21,"v":-59.0},{"t":23.31,"v":-57.5},{"t":23.41,"v":-54.9},{"t":23.52,"v":-54.9},{"t":23.62,"v":-58.3},{"t":23.72,"v":-57.2},{"t":23.83,"v":-56.8},{"t":23.93,"v":-57.2},{"t":24.03,"v":-58.7},{"t":24.14,"v":-57.9},{"t":24.24,"v":-59.8},{"t":24.34,"v":-60.9},{"t":24.45,"v":-63.9},{"t":24.55,"v":-61.7},{"t":24.66,"v":-60.5},
{"t":24.76,"v":-60.9},{"t":24.86,"v":-59.4},{"t":24.97,"v":-57.5},{"t":25.07,"v":-56.4},{"t":25.17,"v":-58.7},{"t":25.28,"v":-57.5},{"t":25.38,"v":-57.5},{"t":25.48,"v":-56.4},{"t":25.59,"v":-54.5},{"t":25.69,"v":-56.4},{"t":25.79,"v":-55.3},{"t":25.9,"v":-54.2},{"t":26.0,"v":-52.3},{"t":26.1,"v":-50.8},{"t":26.21,"v":-52.3},{"t":26.31,"v":-53.4},{"t":26.41,"v":-54.9},{"t":26.52,"v":-54.2},{"t":26.62,"v":-54.9},{"t":26.72,"v":-53.8},{"t":26.83,"v":-54.9},{"t":26.93,"v":-56.4},{"t":27.03,"v":-56.0},{"t":27.14,"v":-57.9},{"t":27.24,"v":-59.8},{"t":27.34,"v":-57.2},{"t":27.45,"v":-57.5},{"t":27.55,"v":-59.4},{"t":27.66,"v":-57.5},{"t":27.76,"v":-58.7},{"t":27.86,"v":-60.2},{"t":27.97,"v":-60.9},{"t":28.07,"v":-59.0},{"t":28.17,"v":-60.2},{"t":28.28,"v":-60.9},{"t":28.38,"v":-58.7},{"t":28.48,"v":-57.2},{"t":28.59,"v":-57.9},{"t":28.69,"v":-58.3},{"t":28.79,"v":-60.2},{"t":28.9,"v":-59.4},{"t":29.0,"v":-57.5},{"t":29.1,"v":-56.4},{"t":29.21,"v":-58.3},{"t":29.31,"v":-60.2},{"t":29.41,"v":-59.8},{"t":29.52,"v":-61.7},{"t":29.62,"v":-62.0},{"t":29.72,"v":-61.7},{"t":29.83,"v":-62.4},{"t":29.93,"v":-60.5},{"t":30.03,"v":-59.8},{"t":30.14,"v":-61.7},{"t":30.24,"v":-61.3},{"t":30.34,"v":-61.7},{"t":30.45,"v":-62.4},{"t":30.55,"v":-63.2},{"t":30.66,"v":-62.0},{"t":30.76,"v":-63.2},{"t":30.86,"v":-63.5},{"t":30.97,"v":-63.9},{"t":31.07,"v":-63.2},{"t":31.17,"v":-61.7},{"t":31.28,"v":-62.0},{"t":31.38,"v":-63.2},{"t":31.48,"v":-62.4},{"t":31.59,"v":-60.9},{"t":31.69,"v":-59.8},{"t":31.79,"v":-58.7},{"t":31.9,"v":-60.9},{"t":32.0,"v":-60.2},{"t":32.1,"v":-57.9},{"t":32.21,"v":-56.8},{"t":32.31,"v":-56.8},{"t":32.41,"v":-56.4},{"t":32.52,"v":-56.0},{"t":32.62,"v":-56.0},{"t":32.72,"v":-54.9},{"t":32.83,"v":-54.2},{"t":32.93,"v":-54.9},{"t":33.03,"v":-52.3},{"t":33.14,"v":-51.5},{"t":33.24,"v":-52.7},{"t":33.34,"v":-51.9},{"t":33.45,"v":-51.9},{"t":33.55,"v":-54.9},{"t":33.66,"v":-52.3},{"t":33.76,"v":-51.2},{"t":33.86,"v":-50.8},{"t":33.97,"v":-53.4},{"t":34.07,"v":-56.4},{"t":34.17,"v":-58.3},{"t":34.28,"v":-59.4},{"t":34.38,"v":-59.8},{"t":34.48,"v":-63.5},{"t":34.59,"v":-62.4},{"t":34.69,"v":-61.7},{"t":34.79,"v":-60.9},{"t":34.9,"v":-60.9},{"t":35.0,"v":-60.5},{"t":35.1,"v":-60.5},{"t":35.21,"v":-59.4},{"t":35.31,"v":-58.3},{"t":35.41,"v":-57.2},{"t":35.52,"v":-54.9},{"t":35.62,"v":-55.7},{"t":35.72,"v":-55.3},{"t":35.83,"v":-56.8},{"t":35.93,"v":-57.9},{"t":36.03,"v":-57.2},{"t":36.14,"v":-57.5},{"t":36.24,"v":-58.7},{"t":36.34,"v":-58.3},{"t":36.45,"v":-57.2},{"t":36.55,"v":-56.4},{"t":36.66,"v":-55.7},{"t":36.76,"v":-56.0},{"t":36.86,"v":-59.0},{"t":36.97,"v":-58.3},{"t":37.07,"v":-56.4},
{"t":37.21,"v":-59.0},{"t":37.31,"v":-57.2},{"t":37.41,"v":-59.0},{"t":37.52,"v":-60.5},{"t":37.62,"v":-62.4},{"t":37.72,"v":-61.7},{"t":37.83,"v":-60.5},{"t":37.93,"v":-62.8},{"t":38.03,"v":-62.4},{"t":38.14,"v":-63.2},{"t":38.24,"v":-61.7},{"t":38.34,"v":-63.2},{"t":38.45,"v":-62.0},{"t":38.55,"v":-62.8},{"t":38.66,"v":-62.0},{"t":38.76,"v":-63.5},{"t":38.86,"v":-62.8},{"t":38.97,"v":-61.7},{"t":39.07,"v":-62.0},{"t":39.17,"v":-60.9},{"t":39.28,"v":-61.3},{"t":39.38,"v":-60.9},{"t":39.48,"v":-60.2},{"t":39.59,"v":-59.0},{"t":39.69,"v":-60.9},{"t":39.79,"v":-60.2},{"t":39.9,"v":-59.4},{"t":40.0,"v":-58.7},{"t":40.1,"v":-59.0},{"t":40.21,"v":-59.4},{"t":40.31,"v":-60.5},{"t":40.41,"v":-61.3},{"t":40.52,"v":-61.7},{"t":40.62,"v":-62.8},{"t":40.72,"v":-64.7},{"t":40.83,"v":-63.9},{"t":40.93,"v":-65.0},{"t":41.03,"v":-63.9},{"t":41.14,"v":-64.3},{"t":41.24,"v":-63.2},{"t":41.34,"v":-65.4},{"t":41.45,"v":-66.9},{"t":41.55,"v":-65.8},{"t":41.66,"v":-66.9},{"t":41.76,"v":-68.4},{"t":41.86,"v":-67.7},{"t":41.97,"v":-67.3},{"t":42.07,"v":-69.2},{"t":42.17,"v":-68.4},{"t":42.28,"v":-66.9},{"t":42.38,"v":-68.0},{"t":42.48,"v":-67.3},{"t":42.59,"v":-66.9},{"t":42.69,"v":-68.8},{"t":42.79,"v":-71.8},{"t":42.9,"v":-72.2},{"t":43.0,"v":-71.4},{"t":43.1,"v":-74.0},{"t":43.21,"v":-75.9},{"t":43.31,"v":-77.6},{"t":43.41,"v":-75.2},{"t":43.52,"v":-72.2},{"t":43.62,"v":-69.2},{"t":43.72,"v":-68.0},{"t":43.83,"v":-67.7},{"t":43.93,"v":-68.0},{"t":44.03,"v":-64.7},{"t":44.14,"v":-63.9},{"t":44.24,"v":-65.0},{"t":44.34,"v":-63.2},{"t":44.45,"v":-62.4},{"t":44.55,"v":-61.7},{"t":44.66,"v":-60.9},{"t":44.76,"v":-60.5},{"t":44.86,"v":-59.4},{"t":44.97,"v":-57.2},{"t":45.07,"v":-54.2},{"t":45.17,"v":-52.3},{"t":45.28,"v":-52.7},{"t":45.38,"v":-55.3},{"t":45.48,"v":-54.2},{"t":45.59,"v":-54.9},{"t":45.69,"v":-54.2},{"t":45.79,"v":-53.8},{"t":45.9,"v":-55.3},{"t":46.0,"v":-57.2},{"t":46.1,"v":-55.3},{"t":46.21,"v":-54.2},{"t":46.31,"v":-53.0},{"t":46.41,"v":-53.0},{"t":46.52,"v":-52.7},{"t":46.62,"v":-53.8},{"t":46.72,"v":-52.3},{"t":46.83,"v":-51.5},{"t":46.93,"v":-53.0},{"t":47.03,"v":-56.4},{"t":47.14,"v":-59.0},{"t":47.24,"v":-57.5},{"t":47.34,"v":-56.4},{"t":47.45,"v":-59.0},{"t":47.55,"v":-60.5},{"t":47.66,"v":-60.9},{"t":47.76,"v":-62.4},{"t":47.86,"v":-63.9},{"t":47.97,"v":-63.2},{"t":48.07,"v":-64.7},{"t":48.17,"v":-65.8},{"t":48.28,"v":-66.2},{"t":48.38,"v":-66.2},{"t":48.48,"v":-67.3},{"t":48.59,"v":-67.3},{"t":48.69,"v":-67.3},{"t":48.79,"v":-68.0},{"t":48.9,"v":-68.4},{"t":49.0,"v":-70.7},{"t":49.1,"v":-71.4},{"t":49.21,"v":-72.2},{"t":49.31,"v":-71.8},{"t":49.41,"v":-70.7},{"t":49.52,"v":-69.2},{"t":49.62,"v":-64.7},{"t":49.72,"v":-61.7},{"t":49.83,"v":-60.5},{"t":49.93,"v":-58.3},{"t":50.03,"v":-58.7},{"t":50.14,"v":-61.7},{"t":50.24,"v":-65.4},{"t":50.34,"v":-60.9},{"t":50.45,"v":-61.7},{"t":50.52,"v":-63.2}
]
},
"hconcat": [
{
  "width": 362, "height": 362,
  "view": {"stroke": "#111", "strokeWidth": 1},
  "data": {"name": "xy"},
  "mark": {"type": "line", "color": "#2a85dc", "strokeWidth": 1, "interpolate": "catmull-rom", "clip": true},
  "encoding": {
    "x": {"field": "ml", "type": "quantitative", "scale": {"domain": [-20, 10], "nice": false, "zero": false},
      "axis": {"values": [-20, -15, -10, -5, 0, 5, 10], "domain": false, "tickSize": -4, "labelFontSize": 12, "labelPadding": 18, "labelExpr": "replace(datum.label, '\u2212', '-')", "title": "ML poloha COP (mm)", "titleFontSize": 25, "titlePadding": 18}},
    "y": {"field": "ap", "type": "quantitative", "scale": {"domain": [-80, -40], "nice": false, "zero": false},
      "axis": {"values": [-80, -75, -70, -65, -60, -55, -50, -45, -40], "domain": false, "tickSize": -4, "labelFontSize": 12, "labelPadding": 22, "labelExpr": "replace(datum.label, '\u2212', '-')", "title": "AP poloha COP (mm)", "titleFontSize": 25, "titlePadding": 14}},
    "order": {"value": null}
  }
},
{
  "vconcat": [
    {
      "width": 488, "height": 161,
      "layer": [
        {"data": {"name": "ml"}, "mark": {"type": "line", "color": "#2a85dc", "strokeWidth": 1.4, "clip": true},
         "encoding": {
           "x": {"field": "t", "type": "quantitative", "scale": {"domain": [0, 50.5], "nice": false, "zero": false},
             "axis": {"values": [0, 10, 20, 30, 40, 50], "domainWidth": 1.5, "tickSize": -3, "labelFontSize": 9, "labelPadding": 10, "title": "Čas (s)", "titleFontSize": 15, "titlePadding": 2}},
           "y": {"field": "v", "type": "quantitative", "scale": {"domain": [-19.6, 5.8], "nice": false, "zero": false},
             "axis": {"values": [-15, -10, -5, 0, 5], "labelOverlap": false, "domainWidth": 1.5, "tickSize": -3, "labelFont": "DejaVu Sans", "labelFontWeight": "normal", "labelColor": "#555", "labelFontSize": 9, "labelPadding": 9, "labelExpr": "datum.value === 0 ? '-0' : replace(datum.label, '\u2212', '-')", "title": "ML poloha COP (mm)", "titleFontSize": 15, "titlePadding": 10, "titleY": 85}}
         }},
        {"data": {"name": "ml"}, "mark": {"type": "line", "opacity": 0},
         "encoding": {
           "x": {"field": "t", "type": "quantitative", "axis": {"orient": "top", "values": [0, 10, 20, 30, 40, 50], "labels": false, "title": null, "domainWidth": 1.5, "tickSize": -3}},
           "y": {"field": "v", "type": "quantitative", "axis": null}
         }}
      ],
      "resolve": {"axis": {"x": "independent", "y": "independent"}}
    },
    {
      "width": 488, "height": 161,
      "layer": [
        {"data": {"name": "ap"}, "mark": {"type": "line", "color": "#2a85dc", "strokeWidth": 1.4, "clip": true},
         "encoding": {
           "x": {"field": "t", "type": "quantitative", "scale": {"domain": [0, 50.5], "nice": false, "zero": false},
             "axis": {"values": [0, 10, 20, 30, 40, 50], "domainWidth": 1.5, "tickSize": -3, "labelFontSize": 9, "labelPadding": 10, "title": "Čas (s)", "titleFontSize": 15, "titlePadding": 2}},
           "y": {"field": "v", "type": "quantitative", "scale": {"domain": [-77.6, -41.2], "nice": false, "zero": false},
             "axis": {"values": [-75, -70, -65, -60, -55, -50, -45], "labelOverlap": false, "domainWidth": 1.5, "tickSize": -3, "labelFont": "DejaVu Sans", "labelFontWeight": "normal", "labelColor": "#555", "labelFontSize": 9, "labelPadding": 9, "labelExpr": "replace(datum.label, '\u2212', '-')", "title": "AP poloha COP (mm)", "titleFontSize": 15, "titlePadding": 10}}
         }},
        {"data": {"name": "ap"}, "mark": {"type": "line", "opacity": 0},
         "encoding": {
           "x": {"field": "t", "type": "quantitative", "axis": {"orient": "top", "values": [0, 10, 20, 30, 40, 50], "labels": false, "title": null, "domainWidth": 1.5, "tickSize": -3}},
           "y": {"field": "v", "type": "quantitative", "axis": null}
         }}
      ],
      "resolve": {"axis": {"x": "independent", "y": "independent"}}
    }
  ],
  "spacing": 38.3,
  "bounds": "flush"
}
]
}
